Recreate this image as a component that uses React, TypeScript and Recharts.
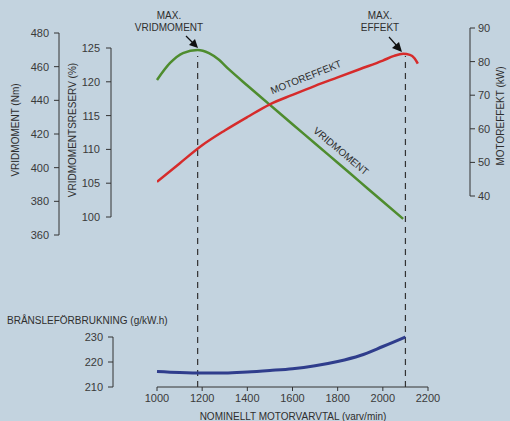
import * as React from "react"
import { LineChart, Line, XAxis, YAxis, ReferenceLine } from "recharts"

// torque (Nm) against engine speed
const TORQUE_RPM = [1000, 1058, 1115, 1180, 1230, 1270, 1320, 1400, 1500, 1600, 1700, 1800, 1900, 2000, 2090]
const TORQUE_NM = [452.1, 462.2, 468.1, 469.9, 468.0, 464.5, 458.2, 448.8, 437.3, 425.8, 414.4, 402.9, 391.4, 379.9, 369.6]
// the same curve read on the torque reserve scale (%)
const TORQUE_RESERVE = [120.3, 122.8, 124.3, 124.7, 124.2, 123.3, 121.7, 119.3, 116.4, 113.5, 110.6, 107.7, 104.8, 101.9, 99.6]

// engine power (kW)
const POWER_RPM = [1000, 1100, 1200, 1300, 1400, 1500, 1600, 1700, 1800, 1900, 2000, 2050, 2090, 2120, 2140, 2155]
const POWER_KW = [44.2, 49.7, 55.1, 59.5, 63.5, 67.3, 70.1, 72.8, 75.3, 77.8, 80.3, 81.7, 82.3, 82.0, 81.0, 79.4]

// specific fuel consumption (g/kW.h)
const FUEL_RPM = [1000, 1100, 1200, 1300, 1400, 1500, 1600, 1700, 1800, 1900, 2000, 2100]
const FUEL_G = [216.2, 215.8, 215.6, 215.6, 216.0, 216.6, 217.3, 218.5, 220.2, 222.6, 226.2, 230.0]

const RPM_TICKS = [1000, 1200, 1400, 1600, 1800, 2000, 2200]
const NM_TICKS = [360, 380, 400, 420, 440, 460, 480]
const PCT_TICKS = [100, 105, 110, 115, 120, 125]
const KW_TICKS = [40, 50, 60, 70, 80, 90]
const FUEL_TICKS = [210, 220, 230]

const MAX_TORQUE_RPM = 1180
const MAX_POWER_RPM = 2100

const torqueData = TORQUE_RPM.map((rpm, i) => ({ rpm, nm: TORQUE_NM[i], pct: TORQUE_RESERVE[i] }))
const powerData = POWER_RPM.map((rpm, i) => ({ rpm, kw: POWER_KW[i] }))
const fuelData = FUEL_RPM.map((rpm, i) => ({ rpm, g: FUEL_G[i] }))

const W = 510
const H = 421
const BG = "#c3d3df"
const INK = "#333"
const FONT = "'Liberation Sans', Arial, sans-serif"

// all panels share one rpm scale: 1000 at x=157, 2200 at x=428
const X_1000 = 157
const X_2200 = 428
const PX_PER_RPM = (X_2200 - X_1000) / 1200
const rpmDomain = (left: number, right: number): [number, number] => [
  1000 + (left - X_1000) / PX_PER_RPM,
  1000 + (right - X_1000) / PX_PER_RPM,
]

const tick = { fontSize: 11, fill: "#3a3a3a", fontFamily: FONT }
const axisStyle = { stroke: INK, strokeWidth: 1 }

const layer: React.CSSProperties = { position: "absolute", left: 0, top: 0 }

export default function App() {
  return (
    <div style={{ position: "absolute", left: 0, top: 0, width: W, height: H, background: BG, overflow: "hidden" }}>
      {/* x axis + dashed guides */}
      <div style={layer}>
        <LineChart width={W} height={H} data={fuelData} margin={{ top: 56, right: W - X_2200, bottom: 0, left: X_1000 }}>
          <XAxis
            dataKey="rpm"
            type="number"
            domain={[1000, 2200]}
            ticks={RPM_TICKS}
            height={34}
            tick={tick}
            tickSize={4}
            tickMargin={3}
            axisLine={axisStyle}
            tickLine={axisStyle}
          />
          <YAxis hide domain={[210, 230]} />
          {/* carries the y scale for the guides only */}
          <Line dataKey="g" stroke="transparent" dot={false} isAnimationActive={false} />
          <ReferenceLine x={MAX_TORQUE_RPM} stroke={INK} strokeWidth={1.2} strokeDasharray="6 5" />
          <ReferenceLine x={MAX_POWER_RPM} stroke={INK} strokeWidth={1.2} strokeDasharray="6 5" />
        </LineChart>
      </div>

      {/* VRIDMOMENTSRESERV (%) */}
      <div style={layer}>
        <LineChart width={W} height={H} data={torqueData} margin={{ top: 48, right: W - X_2200, bottom: H - 217, left: 61 }}>
          <XAxis hide dataKey="rpm" type="number" domain={rpmDomain(111, X_2200)} allowDataOverflow />
          <YAxis
            width={50}
            domain={[100, 125]}
            ticks={PCT_TICKS}
            tick={tick}
            tickSize={5}
            tickMargin={6}
            axisLine={axisStyle}
            tickLine={axisStyle}
            allowDataOverflow
          />
          <Line dataKey="pct" type="monotone" stroke="transparent" dot={false} isAnimationActive={false} />
        </LineChart>
      </div>

      {/* VRIDMOMENT (Nm) */}
      <div style={layer}>
        <LineChart width={W} height={H} data={torqueData} margin={{ top: 33, right: W - X_2200, bottom: H - 235, left: 9 }}>
          <XAxis hide dataKey="rpm" type="number" domain={rpmDomain(59, X_2200)} allowDataOverflow />
          <YAxis
            width={50}
            domain={[360, 480]}
            ticks={NM_TICKS}
            tick={tick}
            tickSize={5}
            tickMargin={5}
            axisLine={axisStyle}
            tickLine={axisStyle}
          />
          <Line dataKey="nm" type="monotone" stroke="#4e8c2e" strokeWidth={2.5} dot={false} isAnimationActive={false} />
        </LineChart>
      </div>

      {/* MOTOREFFEKT (kW) */}
      <div style={layer}>
        <LineChart width={W} height={H} data={powerData} margin={{ top: 28, right: 10, bottom: H - 196, left: X_1000 }}>
          <XAxis hide dataKey="rpm" type="number" domain={rpmDomain(X_1000, 470)} allowDataOverflow />
          <YAxis
            orientation="right"
            width={30}
            domain={[40, 90]}
            ticks={KW_TICKS}
            tick={tick}
            tickSize={5}
            tickMargin={3}
            axisLine={axisStyle}
            tickLine={axisStyle}
          />
          <Line dataKey="kw" type="monotone" stroke="#d62b2b" strokeWidth={2.5} dot={false} isAnimationActive={false} />
        </LineChart>
      </div>

      {/* BRÅNSLEFÖRBRUKNING */}
      <div style={layer}>
        <LineChart width={W} height={H} data={fuelData} margin={{ top: 337, right: W - X_2200, bottom: H - 387, left: 63 }}>
          <XAxis hide dataKey="rpm" type="number" domain={rpmDomain(113, X_2200)} allowDataOverflow />
          <YAxis
            width={50}
            domain={[210, 230]}
            ticks={FUEL_TICKS}
            tick={tick}
            tickSize={5}
            tickMargin={5}
            axisLine={axisStyle}
            tickLine={axisStyle}
          />
          <Line dataKey="g" type="monotone" stroke="#2f3d8c" strokeWidth={3} dot={false} isAnimationActive={false} />
        </LineChart>
      </div>

      {/* titles and annotations */}
      <svg width={W} height={H} style={{ ...layer, pointerEvents: "none" }} fontFamily={FONT} fill="#2e2e2e">
        <text x={15} y={130} fontSize={10} textAnchor="middle" dominantBaseline="central" transform="rotate(-90 15 130)">
          VRIDMOMENT (Nm)
        </text>
        <text x={72} y={130} fontSize={10} textAnchor="middle" dominantBaseline="central" transform="rotate(-90 72 130)">
          VRIDMOMENTSRESERV (%)
        </text>
        <text x={500} y={116} fontSize={10} textAnchor="middle" dominantBaseline="central" transform="rotate(-90 500 116)">
          MOTOREFFEKT (kW)
        </text>
        <text x={7} y={320} fontSize={10} dominantBaseline="central">BRÅNSLEFÖRBRUKNING (g/kW.h)</text>
        <text x={293} y={416} fontSize={10} textAnchor="middle" dominantBaseline="central">
          NOMINELLT MOTORVARVTAL (varv/min)
        </text>

        <text x={169} y={15} fontSize={10} textAnchor="middle" dominantBaseline="central">MAX.</text>
        <text x={169} y={27} fontSize={10} textAnchor="middle" dominantBaseline="central">VRIDMOMENT</text>
        <text x={380} y={15} fontSize={10} textAnchor="middle" dominantBaseline="central">MAX.</text>
        <text x={380} y={27} fontSize={10} textAnchor="middle" dominantBaseline="central">EFFEKT</text>

        <text x={306} y={77} fontSize={10} textAnchor="middle" dominantBaseline="central" transform="rotate(-22 306 77)">
          MOTOREFFEKT
        </text>
        <text x={341} y={151} fontSize={10} textAnchor="middle" dominantBaseline="central" transform="rotate(40 341 151)">
          VRIDMOMENT
        </text>

        {/* arrows to the maxima */}
        <line x1={186} y1={36} x2={193} y2={43} stroke="#111" strokeWidth={1.2} />
        <polygon points="198,48 189,45 195,39" fill="#111" />
        <line x1={389} y1={37} x2={397} y2={46} stroke="#111" strokeWidth={1.2} />
        <polygon points="402,52 392,48 399,42" fill="#111" />
      </svg>
    </div>
  )
}
